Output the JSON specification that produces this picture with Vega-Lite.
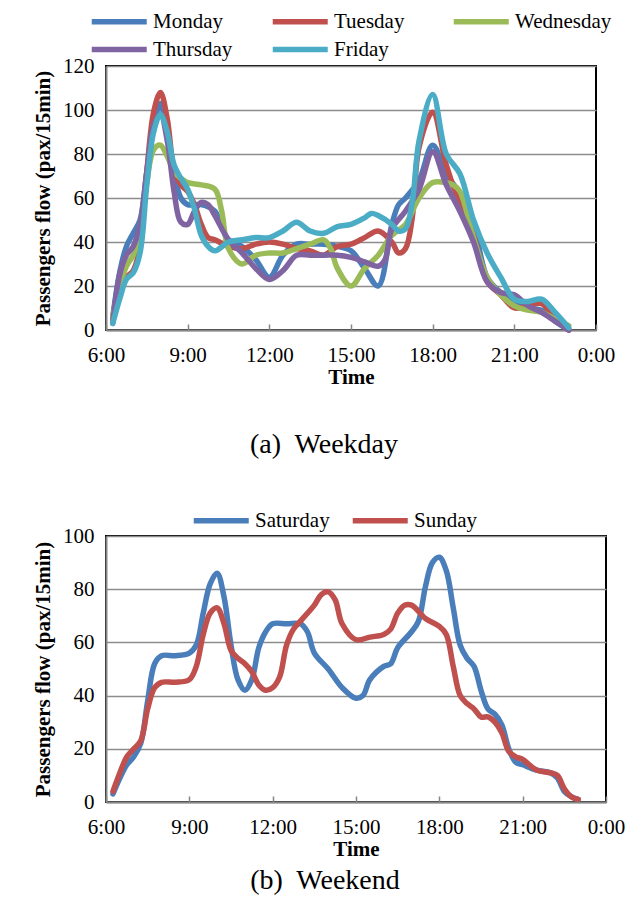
{
  "$schema": "https://vega.github.io/schema/vega-lite/v6.json",
  "background": "white",
  "padding": {"left": 31, "top": 4, "right": 10, "bottom": 5},
  "spacing": 43,
  "config": {
    "font": "Liberation Serif",
    "view": {"stroke": "black", "strokeWidth": 2},
    "axis": {
      "labelFont": "Liberation Serif",
      "labelFontSize": 21,
      "labelColor": "black",
      "titleFont": "Liberation Serif",
      "titleFontSize": 21,
      "titleFontWeight": "bold",
      "titleColor": "black",
      "domainColor": "#868686",
      "domainWidth": 2,
      "gridColor": "#8c8c8c",
      "gridWidth": 1.5,
      "tickColor": "#868686",
      "tickWidth": 1.5
    },
    "legend": {
      "orient": "none",
      "direction": "horizontal",
      "title": null,
      "labelFont": "Liberation Serif",
      "labelFontSize": 21,
      "labelColor": "black",
      "symbolType": "M-1,0H3",
      "symbolSize": 756,
      "symbolStrokeWidth": 5.5,
      "labelOffset": 31,
      "columnPadding": 11,
      "rowPadding": 0,
      "gridAlign": "all"
    },
    "title": {
      "font": "Liberation Serif",
      "fontSize": 28,
      "fontWeight": "normal",
      "color": "black"
    }
  },
  "resolve": {"scale": {"color": "independent"}, "legend": {"color": "independent"}},
  "vconcat": [
    {
      "width": 490,
      "height": 264,
      "title": {"text": "(a)\u00a0 Weekday", "orient": "bottom", "anchor": "middle", "offset": 44, "dx": -27},
      "data": {
        "format": {"parse": {"t": "date:'%H:%M'"}},
        "values": [
          {"d":"Monday","t":"6:15","v":6},{"d":"Monday","t":"6:30","v":26},{"d":"Monday","t":"6:45","v":38},{"d":"Monday","t":"7:00","v":44},{"d":"Monday","t":"7:15","v":50},{"d":"Monday","t":"7:30","v":72},{"d":"Monday","t":"7:45","v":93},{"d":"Monday","t":"8:00","v":103},{"d":"Monday","t":"8:15","v":89},{"d":"Monday","t":"8:30","v":72},{"d":"Monday","t":"8:45","v":60},{"d":"Monday","t":"9:00","v":57},{"d":"Monday","t":"9:30","v":57},{"d":"Monday","t":"10:00","v":54},{"d":"Monday","t":"10:15","v":47},{"d":"Monday","t":"10:30","v":41},{"d":"Monday","t":"11:00","v":38},{"d":"Monday","t":"11:30","v":32},{"d":"Monday","t":"12:00","v":24},{"d":"Monday","t":"12:30","v":34},{"d":"Monday","t":"13:00","v":39},{"d":"Monday","t":"13:30","v":39},{"d":"Monday","t":"14:00","v":39},{"d":"Monday","t":"14:30","v":38},{"d":"Monday","t":"15:00","v":36},{"d":"Monday","t":"15:30","v":28},{"d":"Monday","t":"16:00","v":20},{"d":"Monday","t":"16:30","v":48},{"d":"Monday","t":"16:45","v":57},{"d":"Monday","t":"17:00","v":60},{"d":"Monday","t":"17:30","v":68},{"d":"Monday","t":"18:00","v":84},{"d":"Monday","t":"18:30","v":71},{"d":"Monday","t":"19:00","v":62},{"d":"Monday","t":"19:30","v":48},{"d":"Monday","t":"20:00","v":24},{"d":"Monday","t":"20:30","v":17},{"d":"Monday","t":"21:00","v":12},{"d":"Monday","t":"21:30","v":10},{"d":"Monday","t":"22:00","v":9},{"d":"Monday","t":"22:30","v":4},{"d":"Monday","t":"23:00","v":0},
          {"d":"Tuesday","t":"6:15","v":5},{"d":"Tuesday","t":"6:30","v":20},{"d":"Tuesday","t":"6:45","v":24},{"d":"Tuesday","t":"7:00","v":27},{"d":"Tuesday","t":"7:15","v":38},{"d":"Tuesday","t":"7:30","v":72},{"d":"Tuesday","t":"7:45","v":99},{"d":"Tuesday","t":"8:00","v":108},{"d":"Tuesday","t":"8:15","v":96},{"d":"Tuesday","t":"8:30","v":73},{"d":"Tuesday","t":"8:45","v":66},{"d":"Tuesday","t":"9:00","v":63},{"d":"Tuesday","t":"9:15","v":57},{"d":"Tuesday","t":"9:30","v":48},{"d":"Tuesday","t":"9:45","v":42},{"d":"Tuesday","t":"10:00","v":41},{"d":"Tuesday","t":"10:30","v":38},{"d":"Tuesday","t":"11:00","v":37},{"d":"Tuesday","t":"11:30","v":39},{"d":"Tuesday","t":"12:00","v":40},{"d":"Tuesday","t":"12:30","v":39},{"d":"Tuesday","t":"13:00","v":37},{"d":"Tuesday","t":"13:30","v":36},{"d":"Tuesday","t":"14:00","v":34},{"d":"Tuesday","t":"14:30","v":38},{"d":"Tuesday","t":"15:00","v":39},{"d":"Tuesday","t":"15:30","v":42},{"d":"Tuesday","t":"16:00","v":45},{"d":"Tuesday","t":"16:30","v":40},{"d":"Tuesday","t":"16:45","v":35},{"d":"Tuesday","t":"17:00","v":37},{"d":"Tuesday","t":"17:15","v":51},{"d":"Tuesday","t":"17:30","v":83},{"d":"Tuesday","t":"18:00","v":99},{"d":"Tuesday","t":"18:30","v":75},{"d":"Tuesday","t":"19:00","v":57},{"d":"Tuesday","t":"19:30","v":43},{"d":"Tuesday","t":"20:00","v":22},{"d":"Tuesday","t":"20:30","v":16},{"d":"Tuesday","t":"21:00","v":10},{"d":"Tuesday","t":"21:30","v":11},{"d":"Tuesday","t":"22:00","v":12},{"d":"Tuesday","t":"22:30","v":5},{"d":"Tuesday","t":"23:00","v":0},
          {"d":"Wednesday","t":"6:15","v":6},{"d":"Wednesday","t":"6:30","v":20},{"d":"Wednesday","t":"6:45","v":29},{"d":"Wednesday","t":"7:00","v":34},{"d":"Wednesday","t":"7:15","v":43},{"d":"Wednesday","t":"7:30","v":67},{"d":"Wednesday","t":"7:45","v":82},{"d":"Wednesday","t":"8:00","v":84},{"d":"Wednesday","t":"8:15","v":79},{"d":"Wednesday","t":"8:30","v":72},{"d":"Wednesday","t":"8:45","v":69},{"d":"Wednesday","t":"9:00","v":67},{"d":"Wednesday","t":"9:30","v":66},{"d":"Wednesday","t":"10:00","v":64},{"d":"Wednesday","t":"10:15","v":54},{"d":"Wednesday","t":"10:30","v":37},{"d":"Wednesday","t":"11:00","v":30},{"d":"Wednesday","t":"11:30","v":34},{"d":"Wednesday","t":"12:00","v":35},{"d":"Wednesday","t":"12:30","v":35},{"d":"Wednesday","t":"13:00","v":37},{"d":"Wednesday","t":"13:30","v":39},{"d":"Wednesday","t":"14:00","v":41},{"d":"Wednesday","t":"14:15","v":37},{"d":"Wednesday","t":"14:30","v":28},{"d":"Wednesday","t":"15:00","v":20},{"d":"Wednesday","t":"15:30","v":28},{"d":"Wednesday","t":"16:00","v":34},{"d":"Wednesday","t":"16:30","v":43},{"d":"Wednesday","t":"17:00","v":48},{"d":"Wednesday","t":"17:30","v":60},{"d":"Wednesday","t":"18:00","v":67},{"d":"Wednesday","t":"18:30","v":67},{"d":"Wednesday","t":"18:45","v":66},{"d":"Wednesday","t":"19:00","v":63},{"d":"Wednesday","t":"19:30","v":42},{"d":"Wednesday","t":"20:00","v":24},{"d":"Wednesday","t":"20:30","v":16},{"d":"Wednesday","t":"21:00","v":11},{"d":"Wednesday","t":"21:30","v":9},{"d":"Wednesday","t":"22:00","v":8},{"d":"Wednesday","t":"22:30","v":5},{"d":"Wednesday","t":"23:00","v":2},
          {"d":"Thursday","t":"6:15","v":3},{"d":"Thursday","t":"6:30","v":25},{"d":"Thursday","t":"6:45","v":34},{"d":"Thursday","t":"7:00","v":38},{"d":"Thursday","t":"7:15","v":48},{"d":"Thursday","t":"7:30","v":72},{"d":"Thursday","t":"7:45","v":93},{"d":"Thursday","t":"8:00","v":98},{"d":"Thursday","t":"8:15","v":86},{"d":"Thursday","t":"8:30","v":63},{"d":"Thursday","t":"8:45","v":49},{"d":"Thursday","t":"9:00","v":48},{"d":"Thursday","t":"9:15","v":54},{"d":"Thursday","t":"9:30","v":58},{"d":"Thursday","t":"9:45","v":57},{"d":"Thursday","t":"10:00","v":52},{"d":"Thursday","t":"10:30","v":41},{"d":"Thursday","t":"11:00","v":35},{"d":"Thursday","t":"11:30","v":28},{"d":"Thursday","t":"12:00","v":23},{"d":"Thursday","t":"12:30","v":27},{"d":"Thursday","t":"13:00","v":34},{"d":"Thursday","t":"13:30","v":34},{"d":"Thursday","t":"14:00","v":34},{"d":"Thursday","t":"14:30","v":34},{"d":"Thursday","t":"15:00","v":33},{"d":"Thursday","t":"15:30","v":31},{"d":"Thursday","t":"16:00","v":29},{"d":"Thursday","t":"16:15","v":32},{"d":"Thursday","t":"16:30","v":46},{"d":"Thursday","t":"17:00","v":54},{"d":"Thursday","t":"17:30","v":64},{"d":"Thursday","t":"18:00","v":81},{"d":"Thursday","t":"18:30","v":66},{"d":"Thursday","t":"19:00","v":54},{"d":"Thursday","t":"19:30","v":40},{"d":"Thursday","t":"20:00","v":22},{"d":"Thursday","t":"20:30","v":17},{"d":"Thursday","t":"21:00","v":16},{"d":"Thursday","t":"21:30","v":11},{"d":"Thursday","t":"22:00","v":8},{"d":"Thursday","t":"22:30","v":4},{"d":"Thursday","t":"23:00","v":0},
          {"d":"Friday","t":"6:15","v":3},{"d":"Friday","t":"6:30","v":14},{"d":"Friday","t":"6:45","v":23},{"d":"Friday","t":"7:00","v":26},{"d":"Friday","t":"7:15","v":35},{"d":"Friday","t":"7:30","v":66},{"d":"Friday","t":"7:45","v":90},{"d":"Friday","t":"8:00","v":98},{"d":"Friday","t":"8:15","v":90},{"d":"Friday","t":"8:30","v":75},{"d":"Friday","t":"8:45","v":69},{"d":"Friday","t":"9:00","v":64},{"d":"Friday","t":"9:15","v":55},{"d":"Friday","t":"9:30","v":43},{"d":"Friday","t":"9:45","v":38},{"d":"Friday","t":"10:00","v":36},{"d":"Friday","t":"10:30","v":40},{"d":"Friday","t":"11:00","v":41},{"d":"Friday","t":"11:30","v":42},{"d":"Friday","t":"12:00","v":42},{"d":"Friday","t":"12:30","v":45},{"d":"Friday","t":"13:00","v":49},{"d":"Friday","t":"13:30","v":45},{"d":"Friday","t":"14:00","v":44},{"d":"Friday","t":"14:30","v":47},{"d":"Friday","t":"15:00","v":48},{"d":"Friday","t":"15:30","v":51},{"d":"Friday","t":"15:45","v":53},{"d":"Friday","t":"16:00","v":52},{"d":"Friday","t":"16:30","v":48},{"d":"Friday","t":"16:45","v":45},{"d":"Friday","t":"17:00","v":46},{"d":"Friday","t":"17:15","v":58},{"d":"Friday","t":"17:30","v":86},{"d":"Friday","t":"18:00","v":107},{"d":"Friday","t":"18:30","v":80},{"d":"Friday","t":"19:00","v":71},{"d":"Friday","t":"19:30","v":50},{"d":"Friday","t":"20:00","v":35},{"d":"Friday","t":"20:30","v":24},{"d":"Friday","t":"21:00","v":14},{"d":"Friday","t":"21:30","v":13},{"d":"Friday","t":"22:00","v":14},{"d":"Friday","t":"22:30","v":8},{"d":"Friday","t":"23:00","v":1}
        ]
      },
      "mark": {"type": "line", "interpolate": "catmull-rom", "strokeWidth": 5.5, "strokeCap": "round", "strokeJoin": "round"},
      "encoding": {
        "x": {
          "field": "t", "type": "temporal",
          "scale": {"domain": [{"year": 1900, "month": 1, "date": 1, "hours": 6}, {"year": 1900, "month": 1, "date": 2, "hours": 0}]},
          "axis": {
            "title": "Time", "format": "%-H:%M", "grid": false,
            "values": [{"year": 1900, "month": 1, "date": 1, "hours": 6}, {"year": 1900, "month": 1, "date": 1, "hours": 9}, {"year": 1900, "month": 1, "date": 1, "hours": 12}, {"year": 1900, "month": 1, "date": 1, "hours": 15}, {"year": 1900, "month": 1, "date": 1, "hours": 18}, {"year": 1900, "month": 1, "date": 1, "hours": 21}, {"year": 1900, "month": 1, "date": 2, "hours": 0}],
            "tickSize": -6, "labelPadding": 20, "titlePadding": 1, "labelFlush": false
          }
        },
        "y": {
          "field": "v", "type": "quantitative",
          "scale": {"domain": [0, 120]},
          "axis": {"title": "Passengers flow (pax/15min)", "values": [0, 20, 40, 60, 80, 100, 120], "ticks": false, "labelPadding": 12, "titlePadding": 9}
        },
        "color": {
          "field": "d", "type": "nominal",
          "scale": {"domain": ["Monday", "Tuesday", "Wednesday", "Thursday", "Friday"], "range": ["#4a7ebb", "#c0504d", "#9bbb59", "#8064a2", "#4bacc6"]},
          "legend": {"columns": 3, "legendX": -17, "legendY": -61}
        }
      }
    },
    {
      "width": 500,
      "height": 266,
      "title": {"text": "(b)\u00a0 Weekend", "orient": "bottom", "anchor": "middle", "offset": 8, "dx": -31},
      "data": {
        "format": {"parse": {"t": "date:'%H:%M'"}},
        "values": [
          {"d":"Saturday","t":"6:15","v":3},{"d":"Saturday","t":"6:30","v":9},{"d":"Saturday","t":"6:45","v":14},{"d":"Saturday","t":"7:00","v":17},{"d":"Saturday","t":"7:15","v":22},{"d":"Saturday","t":"7:30","v":38},{"d":"Saturday","t":"7:45","v":52},{"d":"Saturday","t":"8:00","v":55},{"d":"Saturday","t":"8:30","v":55},{"d":"Saturday","t":"9:00","v":56},{"d":"Saturday","t":"9:15","v":59},{"d":"Saturday","t":"9:30","v":71},{"d":"Saturday","t":"9:45","v":82},{"d":"Saturday","t":"10:00","v":86},{"d":"Saturday","t":"10:15","v":77},{"d":"Saturday","t":"10:30","v":59},{"d":"Saturday","t":"10:45","v":46},{"d":"Saturday","t":"11:00","v":42},{"d":"Saturday","t":"11:15","v":46},{"d":"Saturday","t":"11:30","v":58},{"d":"Saturday","t":"11:45","v":64},{"d":"Saturday","t":"12:00","v":67},{"d":"Saturday","t":"12:30","v":67},{"d":"Saturday","t":"13:00","v":67},{"d":"Saturday","t":"13:15","v":64},{"d":"Saturday","t":"13:30","v":56},{"d":"Saturday","t":"14:00","v":50},{"d":"Saturday","t":"14:30","v":43},{"d":"Saturday","t":"15:00","v":39},{"d":"Saturday","t":"15:15","v":40},{"d":"Saturday","t":"15:30","v":46},{"d":"Saturday","t":"16:00","v":51},{"d":"Saturday","t":"16:15","v":52},{"d":"Saturday","t":"16:30","v":58},{"d":"Saturday","t":"17:00","v":64},{"d":"Saturday","t":"17:15","v":68},{"d":"Saturday","t":"17:30","v":81},{"d":"Saturday","t":"17:45","v":90},{"d":"Saturday","t":"18:00","v":92},{"d":"Saturday","t":"18:15","v":87},{"d":"Saturday","t":"18:30","v":73},{"d":"Saturday","t":"18:45","v":59},{"d":"Saturday","t":"19:00","v":54},{"d":"Saturday","t":"19:15","v":51},{"d":"Saturday","t":"19:30","v":42},{"d":"Saturday","t":"19:45","v":35},{"d":"Saturday","t":"20:00","v":33},{"d":"Saturday","t":"20:15","v":29},{"d":"Saturday","t":"20:30","v":20},{"d":"Saturday","t":"20:45","v":15},{"d":"Saturday","t":"21:00","v":14},{"d":"Saturday","t":"21:30","v":12},{"d":"Saturday","t":"22:00","v":11},{"d":"Saturday","t":"22:15","v":9},{"d":"Saturday","t":"22:30","v":4},{"d":"Saturday","t":"22:45","v":2},{"d":"Saturday","t":"23:00","v":1},
          {"d":"Sunday","t":"6:15","v":4},{"d":"Sunday","t":"6:30","v":11},{"d":"Sunday","t":"6:45","v":17},{"d":"Sunday","t":"7:00","v":20},{"d":"Sunday","t":"7:15","v":23},{"d":"Sunday","t":"7:30","v":35},{"d":"Sunday","t":"7:45","v":43},{"d":"Sunday","t":"8:00","v":45},{"d":"Sunday","t":"8:30","v":45},{"d":"Sunday","t":"9:00","v":46},{"d":"Sunday","t":"9:15","v":51},{"d":"Sunday","t":"9:30","v":63},{"d":"Sunday","t":"9:45","v":71},{"d":"Sunday","t":"10:00","v":73},{"d":"Sunday","t":"10:15","v":67},{"d":"Sunday","t":"10:30","v":57},{"d":"Sunday","t":"10:45","v":54},{"d":"Sunday","t":"11:00","v":52},{"d":"Sunday","t":"11:15","v":49},{"d":"Sunday","t":"11:30","v":44},{"d":"Sunday","t":"11:45","v":42},{"d":"Sunday","t":"12:00","v":43},{"d":"Sunday","t":"12:15","v":47},{"d":"Sunday","t":"12:30","v":59},{"d":"Sunday","t":"12:45","v":65},{"d":"Sunday","t":"13:00","v":68},{"d":"Sunday","t":"13:30","v":74},{"d":"Sunday","t":"13:45","v":78},{"d":"Sunday","t":"14:00","v":79},{"d":"Sunday","t":"14:15","v":76},{"d":"Sunday","t":"14:30","v":67},{"d":"Sunday","t":"15:00","v":61},{"d":"Sunday","t":"15:30","v":62},{"d":"Sunday","t":"16:00","v":63},{"d":"Sunday","t":"16:15","v":65},{"d":"Sunday","t":"16:30","v":71},{"d":"Sunday","t":"16:45","v":74},{"d":"Sunday","t":"17:00","v":74},{"d":"Sunday","t":"17:30","v":69},{"d":"Sunday","t":"18:00","v":66},{"d":"Sunday","t":"18:15","v":63},{"d":"Sunday","t":"18:30","v":51},{"d":"Sunday","t":"18:45","v":40},{"d":"Sunday","t":"19:00","v":37},{"d":"Sunday","t":"19:15","v":35},{"d":"Sunday","t":"19:30","v":32},{"d":"Sunday","t":"19:45","v":32},{"d":"Sunday","t":"20:00","v":30},{"d":"Sunday","t":"20:15","v":26},{"d":"Sunday","t":"20:30","v":19},{"d":"Sunday","t":"20:45","v":17},{"d":"Sunday","t":"21:00","v":16},{"d":"Sunday","t":"21:30","v":12},{"d":"Sunday","t":"22:00","v":11},{"d":"Sunday","t":"22:15","v":10},{"d":"Sunday","t":"22:30","v":5},{"d":"Sunday","t":"22:45","v":2},{"d":"Sunday","t":"23:00","v":1}
        ]
      },
      "mark": {"type": "line", "interpolate": "catmull-rom", "strokeWidth": 5.5, "strokeCap": "round", "strokeJoin": "round"},
      "encoding": {
        "x": {
          "field": "t", "type": "temporal",
          "scale": {"domain": [{"year": 1900, "month": 1, "date": 1, "hours": 6}, {"year": 1900, "month": 1, "date": 2, "hours": 0}]},
          "axis": {
            "title": "Time", "format": "%-H:%M", "grid": false,
            "values": [{"year": 1900, "month": 1, "date": 1, "hours": 6}, {"year": 1900, "month": 1, "date": 1, "hours": 9}, {"year": 1900, "month": 1, "date": 1, "hours": 12}, {"year": 1900, "month": 1, "date": 1, "hours": 15}, {"year": 1900, "month": 1, "date": 1, "hours": 18}, {"year": 1900, "month": 1, "date": 1, "hours": 21}, {"year": 1900, "month": 1, "date": 2, "hours": 0}],
            "tickSize": -6, "labelPadding": 20, "titlePadding": 1, "labelFlush": false
          }
        },
        "y": {
          "field": "v", "type": "quantitative",
          "scale": {"domain": [0, 100]},
          "axis": {"title": "Passengers flow (pax/15min)", "values": [0, 20, 40, 60, 80, 100], "ticks": false, "labelPadding": 12, "titlePadding": 9}
        },
        "color": {
          "field": "d", "type": "nominal",
          "scale": {"domain": ["Saturday", "Sunday"], "range": ["#4a7ebb", "#c0504d"]},
          "legend": {"columns": 2, "legendX": 85, "legendY": -32}
        }
      }
    }
  ]
}
